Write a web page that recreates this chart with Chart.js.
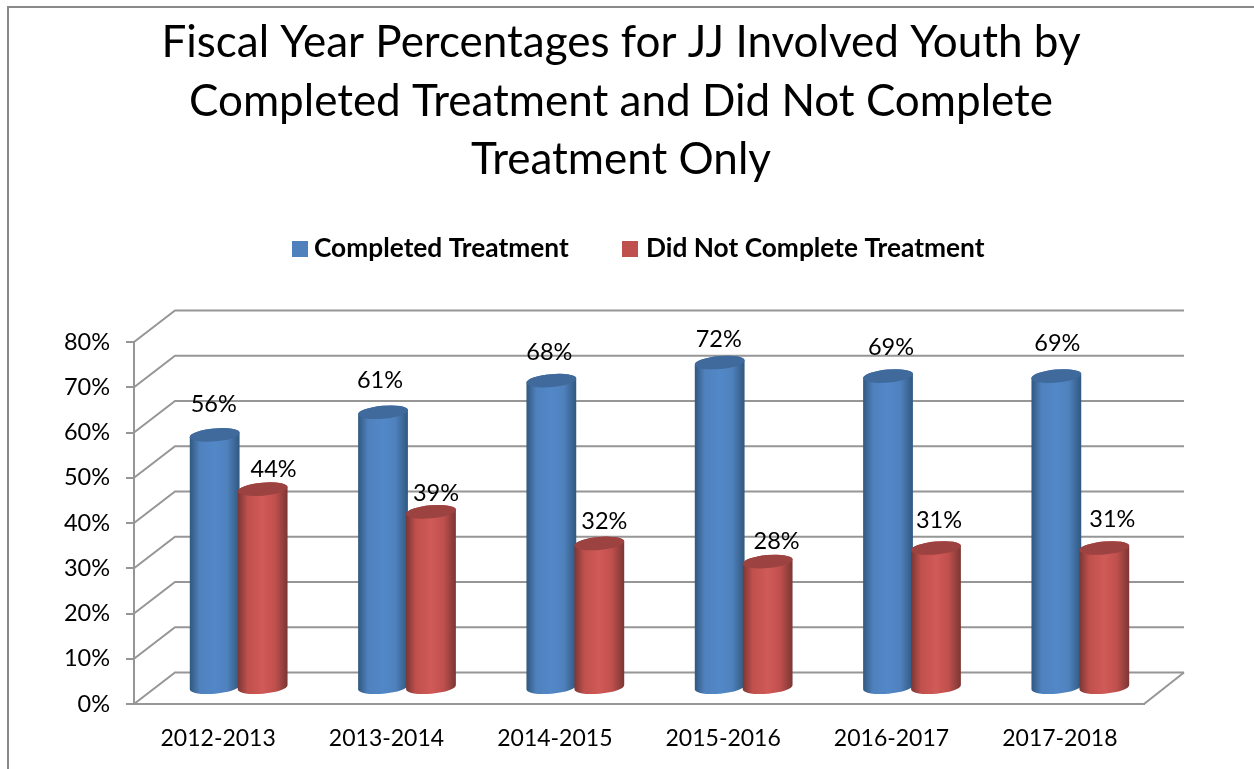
<!DOCTYPE html>
<html>
<head>
<meta charset="utf-8">
<title>JJ Involved Youth</title>
<script src="https://cdn.jsdelivr.net/npm/chart.js@4"></script>
<style>
    body { margin: 0; background: #fff; }
    canvas { display: block; }
</style>
</head>
<body>
<canvas id="myChart" width="1254" height="769"></canvas>
<script>
const titleLines = [
    'Fiscal Year Percentages for JJ Involved Youth by',
    'Completed Treatment and Did Not Complete',
    'Treatment Only'
]
const years = ['2012-2013', '2013-2014', '2014-2015', '2015-2016', '2016-2017', '2017-2018']
const completed = [56, 61, 68, 72, 69, 69]
const notCompleted = [44, 39, 32, 28, 31, 31]

const fontName = 'Lato, "Open Sans", sans-serif'
const gray = '#969696'
const depthX = 41
const depthY = -31.5

// label position in the reference is a bit off from the bar, moved by hand (x, y)
const labelMoves = [
    [[-1, -30], [-3, -32], [-2, -28], [-1, -23], [3, -29], [1, -33]],
    [[11, -20], [5, -18], [5, -22], [9, -20], [3, -28], [8, -29]]
]
const legendItems = [
    { boxX: 292, textX: 314 },
    { boxX: 622, textX: 646 }
]
const barColors = [
    { edge: '#30587f', mid: '#5288c8', cap: '#3f6a9b', fill: '#4f81bd' },
    { edge: '#7a3634', mid: '#d05a57', cap: '#9c4240', fill: '#c0504d' }
]

function cylinder(ctx, x, top, base, width, c) {
    const rx = width / 2 + 1
    const ry = 6.5
    const tilt = -0.09
    let grad = ctx.createLinearGradient(x - rx, 0, x + rx, 0)
    grad.addColorStop(0, c.edge)
    grad.addColorStop(0.2, c.fill)
    grad.addColorStop(0.5, c.mid)
    grad.addColorStop(0.75, c.fill)
    grad.addColorStop(1, c.edge)
    ctx.beginPath()
    ctx.ellipse(x, top, rx, ry, tilt, Math.PI, 2 * Math.PI)
    ctx.ellipse(x, base, rx, ry, tilt, 0, Math.PI)
    ctx.closePath()
    ctx.fillStyle = grad
    ctx.fill()
    ctx.beginPath()
    ctx.ellipse(x, top, rx, ry, tilt, 0, 2 * Math.PI)
    ctx.fillStyle = c.cap
    ctx.fill()
}

const fakeThreeD = {
    id: 'fakeThreeD',
    afterLayout(chart) {
        // title is centered on the whole frame, not on the plot
        chart.titleBlock.left += 49
        chart.titleBlock.right += 49
    },
    beforeDraw(chart) {
        const ctx = chart.ctx
        ctx.save()
        ctx.fillStyle = '#fff'
        ctx.fillRect(0, 0, chart.width, chart.height)
        ctx.strokeStyle = '#8a8a8a'
        ctx.lineWidth = 2
        ctx.beginPath()
        ctx.moveTo(8, chart.height)
        ctx.lineTo(8, 7)
        ctx.lineTo(chart.width, 7)
        ctx.stroke()

        // legend
        ctx.font = 'bold 26.3px ' + fontName
        ctx.textBaseline = 'middle'
        ctx.textAlign = 'left'
        legendItems.forEach((item, i) => {
            ctx.fillStyle = barColors[i].fill
            ctx.fillRect(item.boxX, 241, 16, 16)
            ctx.fillStyle = '#000'
            ctx.fillText(chart.data.datasets[i].label, item.textX, 249)
        })
        ctx.restore()
    },
    beforeDatasetsDraw(chart) {
        const ctx = chart.ctx
        const yScale = chart.scales.y
        const { left, right } = chart.chartArea
        ctx.save()

        // back wall lines and the side ones that go to the front axis
        ctx.strokeStyle = gray
        ctx.lineWidth = 2
        yScale.ticks.forEach(tick => {
            const y = yScale.getPixelForValue(tick.value)
            ctx.beginPath()
            ctx.moveTo(left, y)
            ctx.lineTo(left + depthX, y + depthY)
            ctx.lineTo(right + depthX - 1, y + depthY)
            ctx.stroke()
        })
        const zero = yScale.getPixelForValue(0)
        ctx.beginPath()
        ctx.moveTo(right, zero)
        ctx.lineTo(right + depthX - 1, zero + depthY)
        ctx.stroke()

        // cylinders stand in the middle of the floor
        chart.data.datasets.forEach((ds, i) => {
            chart.getDatasetMeta(i).data.forEach(bar => {
                cylinder(ctx, bar.x + depthX / 2, bar.y + depthY / 2, bar.base + depthY / 2, bar.width, barColors[i])
            })
        })

        ctx.font = '23.5px ' + fontName
        ctx.fillStyle = '#000'
        ctx.textAlign = 'center'
        ctx.textBaseline = 'middle'
        chart.data.datasets.forEach((ds, i) => {
            chart.getDatasetMeta(i).data.forEach((bar, j) => {
                const move = labelMoves[i][j]
                ctx.fillText(ds.data[j] + '%', bar.x + depthX / 2 + move[0], bar.y + depthY / 2 + move[1])
            })
        })
        ctx.restore()
        return false
    }
}

const dataChart = {
    labels: years,
    datasets: [
        { label: 'Completed Treatment', data: completed, backgroundColor: barColors[0].fill },
        { label: 'Did Not Complete Treatment', data: notCompleted, backgroundColor: barColors[1].fill }
    ]
}

const config = {
    type: 'bar',
    data: dataChart,
    options: {
        responsive: false,
        animation: false,
        categoryPercentage: 0.57,
        barPercentage: 1,
        layout: { padding: { left: 0, right: 110, top: 0, bottom: 0 } },
        plugins: {
            legend: { display: false },
            tooltip: { enabled: false },
            title: {
                display: true,
                text: titleLines,
                color: '#000',
                font: { family: fontName, size: 44, weight: 'normal', lineHeight: 1.33 },
                padding: { top: 14, bottom: 152.5 }
            }
        },
        scales: {
            x: {
                afterFit: s => { s.height = 65 },
                grid: { display: false },
                border: { color: gray, width: 2 },
                ticks: { color: '#000', font: { family: fontName, size: 23 }, padding: 13, maxRotation: 0 }
            },
            y: {
                min: 0,
                max: 80,
                afterFit: s => { s.width = 134 },
                grid: { drawOnChartArea: false, color: gray, lineWidth: 2, tickLength: 8 },
                border: { color: gray, width: 2 },
                ticks: { stepSize: 10, color: '#000', font: { family: fontName, size: 23.5 }, padding: 16, callback: v => v + '%' }
            }
        }
    },
    plugins: [fakeThreeD]
}

const myChart = new Chart(document.getElementById('myChart'), config)
</script>
</body>
</html>
